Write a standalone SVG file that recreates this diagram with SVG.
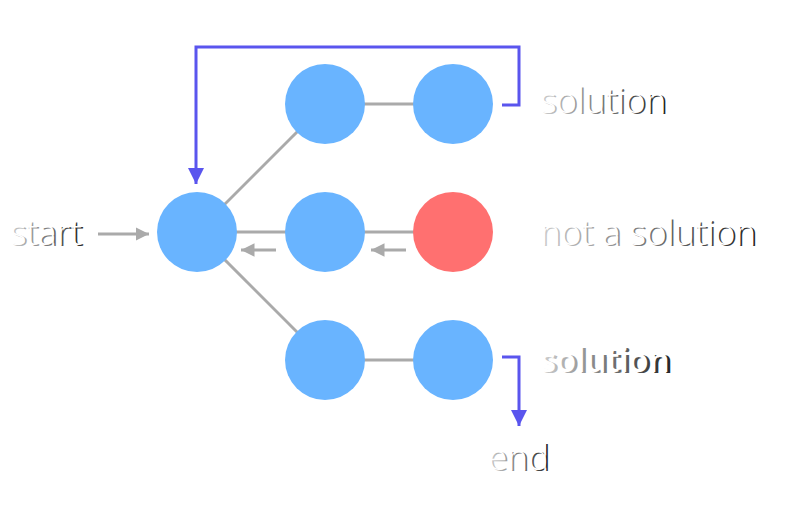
<svg xmlns="http://www.w3.org/2000/svg" width="809" height="526" viewBox="0 0 809 526">
<defs>
<marker id="ag" viewBox="0 0 10 10" refX="10" refY="5" markerWidth="4.5" markerHeight="4.5" orient="auto" markerUnits="strokeWidth"><path d="M0,0 L10,5 L0,10 Z" fill="#aaaaaa"/></marker>
<marker id="ap" viewBox="0 0 10 10" refX="10" refY="5" markerWidth="5.5" markerHeight="5.5" orient="auto" markerUnits="strokeWidth"><path d="M0,0 L10,5 L0,10 Z" fill="#5a55ee"/></marker>
<linearGradient id="sh" x1="0" y1="0" x2="1" y2="0"><stop offset="0" stop-color="#cccccc"/><stop offset="1" stop-color="#222222"/></linearGradient>
</defs>
<style>
.edge{stroke:#aaaaaa;stroke-width:3;fill:none}
.back{stroke:#aaaaaa;stroke-width:3;fill:none;marker-end:url(#ag)}
.loop{stroke:#5a55ee;stroke-width:3;fill:none;marker-end:url(#ap)}
.n{fill:#69b4ff}
.bad{fill:#ff7070}
.t{font-family:"Open Sans","Liberation Sans",sans-serif;font-size:35px;font-weight:300}
.b{font-weight:600;font-size:33px}
.s{fill:url(#sh)}
.w{fill:#ffffff}
</style>
<rect width="809" height="526" fill="#ffffff"/>
<g id="connectors">
<line class="edge" x1="197" y1="232" x2="325" y2="104"/>
<line class="edge" x1="197" y1="232" x2="325" y2="232"/>
<line class="edge" x1="197" y1="232" x2="325" y2="360"/>
<line class="edge" x1="325" y1="104" x2="453" y2="104"/>
<line class="edge" x1="325" y1="232" x2="453" y2="232"/>
<line class="edge" x1="325" y1="360" x2="453" y2="360"/>
<line class="back" x1="98" y1="234" x2="149" y2="234"/>
<line class="back" x1="276" y1="250" x2="241" y2="250"/>
<line class="back" x1="406" y1="250" x2="371" y2="250"/>
<path class="loop" d="M502,105 H519 V47 H196 V184"/>
<path class="loop" d="M502,357 H519 V426"/>
</g>
<g id="n-start"><circle class="n" cx="197" cy="232" r="40"/></g>
<g id="n-top1"><circle class="n" cx="325" cy="104" r="40"/></g>
<g id="n-top2"><circle class="n" cx="453" cy="104" r="40"/></g>
<g id="n-mid1"><circle class="n" cx="325" cy="232" r="40"/></g>
<g id="n-mid2"><circle class="bad" cx="453" cy="232" r="40"/></g>
<g id="n-bot1"><circle class="n" cx="325" cy="360" r="40"/></g>
<g id="n-bot2"><circle class="n" cx="453" cy="360" r="40"/></g>
<g id="labels">
<g id="l-start"><text class="t s" x="12" y="246">start</text><text class="t w" x="10" y="245">start</text></g>
<g id="l-sol1"><text class="t s" x="542" y="114">solution</text><text class="t w" x="540" y="113">solution</text></g>
<g id="l-not"><text class="t s" x="542" y="246">not a solution</text><text class="t w" x="540" y="245">not a solution</text></g>
<g id="l-sol2"><text class="t b s" x="543" y="373">solution</text><text class="t b w" x="540" y="372">solution</text></g>
<g id="l-end"><text class="t s" x="490" y="471">end</text><text class="t w" x="488" y="470">end</text></g>
</g>
</svg>
